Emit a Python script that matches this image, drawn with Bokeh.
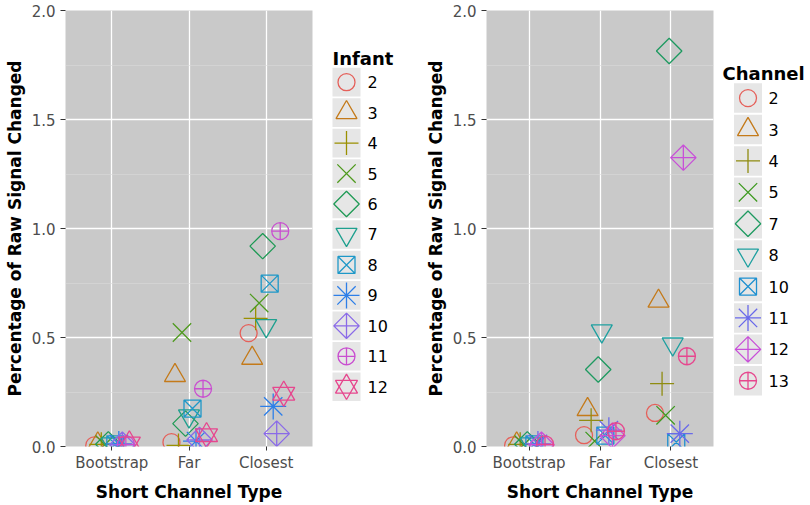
import math
from bokeh.plotting import figure
from bokeh.layouts import row
from bokeh.models import (ColumnDataSource, FactorRange, Range1d, FixedTicker,
                          PrintfTickFormatter)
from bokeh.transform import dodge
from bokeh.embed import file_html
from bokeh.resources import INLINE
from bokeh.core.properties import value

# ---------------- data ----------------
categories = ["Bootstrap", "Far", "Closest"]
y_ticks = [0.0, 0.5, 1.0, 1.5, 2.0]
y_minor = [0.25, 0.75, 1.25, 1.75]

infant_labels = ["2", "3", "4", "5", "6", "7", "8", "9", "10", "11", "12"]
infant_bootstrap = [0.005, 0.012, 0.010, 0.008, 0.010, 0.012, 0.010, 0.012, 0.008, 0.010, 0.014]
infant_far = [0.020, 0.326, 0.005, 0.523, 0.105, 0.140, 0.174, 0.025, 0.030, 0.265, 0.052]
infant_closest = [0.520, 0.405, 0.588, 0.658, 0.919, 0.554, 0.747, 0.184, 0.059, 0.988, 0.242]

channel_labels = ["2", "3", "4", "5", "7", "8", "10", "11", "12", "13"]
channel_bootstrap = [0.005, 0.012, 0.010, 0.008, 0.010, 0.012, 0.010, 0.012, 0.008, 0.010]
channel_far = [0.052, 0.170, 0.120, 0.025, 0.353, 0.530, 0.050, 0.075, 0.050, 0.070]
channel_closest = [0.154, 0.667, 0.288, 0.143, 1.814, 0.470, 0.020, 0.059, 1.325, 0.414]

shape_names = ["circle", "triangle", "cross", "x", "diamond", "inverted_triangle",
               "square_x", "asterisk", "diamond_plus", "circle_plus", "hexagram"]

infant_colors = ["#E5605A", "#C47A1A", "#9A9000", "#4F9A1E", "#1F9A55", "#1FA08F",
                 "#1E98C8", "#2E7FE8", "#8A6AE8", "#C94FD0", "#E6478E"]
channel_colors = ["#E5605A", "#C47A1A", "#8F8C10", "#3E9A20", "#1E9A60", "#1FA0A0",
                  "#1E90D0", "#6A6AEA", "#C850D8", "#E6478E"]

# marker drawing specs: (bokeh marker, size, angle)
MARKERS = {
    "circle": [("circle", 17, 0)],
    "triangle": [("triangle", 21, 0)],
    "cross": [("cross", 24, 0)],
    "x": [("x", 26, 0)],
    "diamond": [("square", 18, math.pi / 4)],
    "inverted_triangle": [("inverted_triangle", 21, 0)],
    "square_x": [("square_x", 17, 0)],
    "asterisk": [("asterisk", 26, 0)],
    "diamond_plus": [("square_x", 18, math.pi / 4)],
    "circle_plus": [("circle_cross", 17, 0)],
    "hexagram": [("triangle", 22, 0), ("inverted_triangle", 22, 0)],
}

H = 504
TOP = 10
BOTTOM = 56
FONT = "DejaVu Sans"
PANEL_BG = "#C9C9C9"
LW = 1.3


def main_panel(labels, boot, far, close, colors, width, left, right):
    p = figure(x_range=FactorRange(*categories, range_padding=0.1,
                                   range_padding_units="absolute"),
               y_range=Range1d(0, 2), width=width, height=H,
               output_backend="svg", toolbar_location=None,
               min_border_left=left, min_border_right=right,
               min_border_top=TOP, min_border_bottom=BOTTOM)
    p.background_fill_color = PANEL_BG
    p.border_fill_color = "white"
    p.outline_line_color = None

    p.yaxis.ticker = FixedTicker(ticks=y_ticks, minor_ticks=y_minor)
    p.yaxis.formatter = PrintfTickFormatter(format="%.1f")
    for ax in (p.xaxis, p.yaxis):
        ax.axis_line_color = None
        ax.major_tick_line_color = "#333333"
        ax.major_tick_in = 0
        ax.minor_tick_out = 0
        ax.minor_tick_in = 0
        ax.major_label_text_font = FONT
        ax.major_label_text_font_size = "15px"
        ax.major_label_text_color = "#4D4D4D"
        ax.axis_label_text_font = FONT
        ax.axis_label_text_font_size = "17px"
        ax.axis_label_text_font_style = "bold"
        ax.axis_label_text_color = "black"
    p.xaxis.axis_label = "Short Channel Type"
    p.yaxis.axis_label = "Percentage of Raw Signal Changed"
    p.xaxis.major_tick_out = 4
    p.xaxis.major_label_standoff = 3
    p.xaxis.axis_label_standoff = 7
    p.yaxis.major_tick_out = 5
    p.yaxis.major_label_standoff = 5
    p.yaxis.axis_label_standoff = 4

    p.xgrid.grid_line_color = "white"
    p.xgrid.grid_line_width = 1.3
    p.ygrid.grid_line_color = "white"
    p.ygrid.grid_line_width = 1.3
    p.ygrid.minor_grid_line_color = "#DADADA"
    p.ygrid.minor_grid_line_width = 0.6

    n = len(labels)
    for i in range(n):
        src = ColumnDataSource(dict(cat=categories, val=[boot[i], far[i], close[i]]))
        off = -0.25 + (i + 0.5) * 0.5 / n
        for m, s, a in MARKERS[shape_names[i]]:
            p.scatter(x=dodge("cat", off, range=p.x_range), y="val", source=src,
                      marker=m, size=s, angle=a, line_color=colors[i],
                      fill_color=None, line_width=LW)
    return p


def legend_panel(title, labels, colors, width, first_y, band, key_x, text_x,
                 title_x, title_y, title_size):
    # legend drawn in a pixel coordinate space (y grows downward from the figure top)
    n = len(labels)
    p = figure(width=width, height=H, x_range=Range1d(0, width),
               y_range=Range1d(H - BOTTOM, TOP),
               output_backend="svg", toolbar_location=None,
               x_axis_location=None, y_axis_location=None,
               min_border_left=0, min_border_right=0,
               min_border_top=TOP, min_border_bottom=BOTTOM)
    p.outline_line_color = None
    p.grid.visible = False
    p.background_fill_color = "white"
    p.border_fill_color = "white"

    ys = [first_y + i * band for i in range(n)]
    src = ColumnDataSource(dict(lab=labels, y=ys))
    p.rect(x=key_x, y="y", source=src, width=28, height=band - 2,
           width_units="screen", height_units="screen",
           fill_color="#E6E6E6", line_color=None)
    for i in range(n):
        s1 = ColumnDataSource(dict(y=[ys[i]]))
        for m, s, a in MARKERS[shape_names[i]]:
            p.scatter(x=key_x, y="y", source=s1, marker=m, size=s, angle=a,
                      line_color=colors[i], fill_color=None, line_width=LW)
    p.text(x=text_x, y="y", text="lab", source=src, text_baseline="middle",
           text_align="left", text_font=value(FONT), text_font_size="16px",
           text_color="black")
    p.text(x=[title_x], y=[title_y], text=[title], text_baseline="alphabetic",
           text_align="left", text_font=value(FONT), text_font_size=title_size,
           text_font_style="bold", text_color="black")
    return p


p1 = main_panel(infant_labels, infant_bootstrap, infant_far, infant_closest,
                infant_colors, 320, 65, 8)
l1 = legend_panel("Infant", infant_labels, infant_colors, 100, 82, 30.6, 26, 47,
                  12, 58, "18px")
p2 = main_panel(channel_labels, channel_bootstrap, channel_far, channel_closest,
                channel_colors, 300, 66, 7)
l2 = legend_panel("Channel", channel_labels, channel_colors, 88, 98, 31.55, 27.5, 48,
                  2, 73, "18px")

layout = row(p1, l1, p2, l2)
open("out.html", "w").write(file_html(layout, INLINE))
